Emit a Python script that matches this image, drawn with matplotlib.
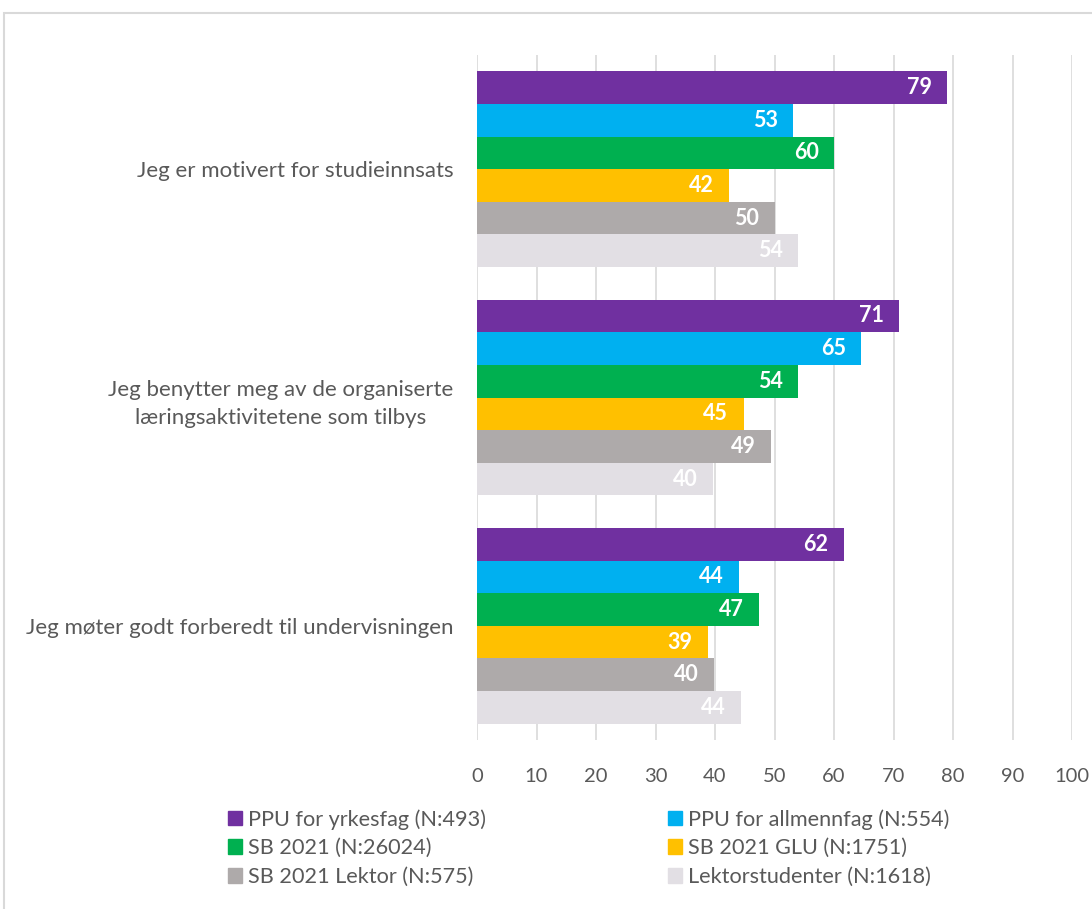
import matplotlib.pyplot as plt
from matplotlib.patches import Rectangle, Patch
import numpy as np

plt.rcParams['font.family'] = ['Lato', 'DejaVu Sans']

categories = ["Jeg er motivert for studieinnsats",
              "Jeg benytter meg av de organiserte\nlæringsaktivitetene som tilbys",
              "Jeg møter godt forberedt til undervisningen"]
series = ["PPU for yrkesfag (N:493)", "PPU for allmennfag (N:554)",
          "SB 2021 (N:26024)", "SB 2021 GLU (N:1751)",
          "SB 2021 Lektor (N:575)", "Lektorstudenter (N:1618)"]
colors = ["#7030A0", "#00B0F0", "#00B050", "#FFC000", "#AEAAAA", "#E2DFE4"]

# values per series, one per category (top to bottom)
ppu_yrkesfag = [79.0, 70.9, 61.6]
ppu_allmennfag = [53.1, 64.6, 44.1]
sb_2021 = [60.0, 54.0, 47.4]
sb_2021_glu = [42.4, 44.8, 38.8]
sb_2021_lektor = [50.0, 49.4, 39.9]
lektorstudenter = [54.0, 39.7, 44.3]
values = [ppu_yrkesfag, ppu_allmennfag, sb_2021, sb_2021_glu,
          sb_2021_lektor, lektorstudenter]

fig = plt.figure(figsize=(10.92, 9.09), dpi=100)
ax = fig.add_axes([477/1092, 1 - 740/909, 595/1092, 685/909])

# outer chart border (cut off at right and bottom like the original)
fig.patches.append(Rectangle((4/1092, -0.1), 1.2, 1 - 13/909 + 0.1,
                             transform=fig.transFigure, fill=False,
                             edgecolor="#d9d9d9", linewidth=1.5))

y = np.arange(len(categories))
w = 1 / 7
for j, (vals, c) in enumerate(zip(values, colors)):
    pos = y + (j - 2.5) * w
    ax.barh(pos, vals, height=w, color=c, zorder=3)
    for p, v in zip(pos, vals):
        ax.annotate(f"{v:.0f}", (v, p), xytext=(-11, 0), textcoords="offset points",
                    ha="right", va="center", color="white", fontsize=15.5,
                    fontweight="bold", zorder=4)

ax.set_xlim(0, 100)
ax.set_ylim(2.5, -0.5)
ax.set_xticks(range(0, 101, 10))
ax.set_yticks(y)
ax.set_yticklabels(categories, ha="right", multialignment="center", linespacing=1.55)
ax.tick_params(axis="y", length=0, pad=17, labelsize=16, labelcolor="#595959")
ax.tick_params(axis="x", length=0, pad=20, labelsize=14.5, labelcolor="#595959")
ax.grid(axis="x", color="#d9d9d9", linewidth=1.2, zorder=0)
for s in ax.spines.values():
    s.set_visible(False)

handles = [Patch(color=c) for c in colors]
order = [0, 2, 4, 1, 3, 5]
fig.legend([handles[i] for i in order], [series[i] for i in order], ncol=2,
           loc="upper left", bbox_to_anchor=(228/1092, 1 - 809/909),
           frameon=False, fontsize=15.6, handlelength=0.65, handleheight=0.65,
           handletextpad=0.28, columnspacing=8.4, labelspacing=0.4,
           borderpad=0, borderaxespad=0, labelcolor="#595959")

fig.savefig("out.png", dpi=100)
